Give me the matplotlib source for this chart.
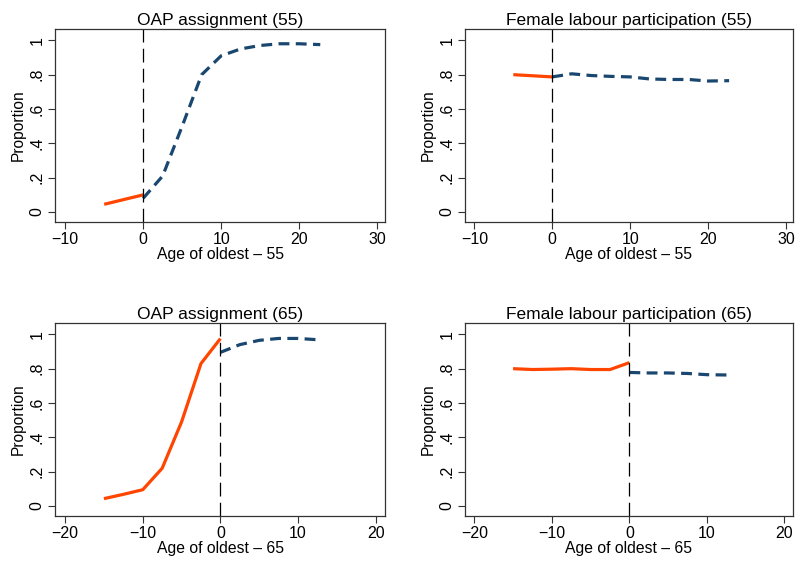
import numpy as np
import matplotlib.pyplot as plt

plt.rcParams['font.family'] = ['Liberation Sans', 'DejaVu Sans']

RED = '#FF4500'
NAVY = '#1A476F'

# Panel (55): bins of age of oldest minus 55
x55_left = [-5, 0]
x55_right = [0, 2.5, 5, 7.5, 10, 12.5, 15, 17.5, 20, 22.7]
oap55_left = [0.045, 0.10]
oap55_right = [0.08, 0.21, 0.50, 0.80, 0.91, 0.95, 0.97, 0.98, 0.98, 0.975]
flp55_left = [0.80, 0.787]
flp55_right = [0.787, 0.805, 0.795, 0.79, 0.787, 0.775, 0.772, 0.772, 0.763, 0.765]

# Panel (65): bins of age of oldest minus 65
x65_left = [-15, -12.5, -10, -7.5, -5, -2.5, 0]
x65_right = [0, 2.5, 5, 7.5, 10, 12.7]
oap65_left = [0.043, 0.068, 0.095, 0.22, 0.49, 0.83, 0.975]
oap65_right = [0.895, 0.94, 0.965, 0.976, 0.976, 0.968]
flp65_left = [0.80, 0.795, 0.797, 0.80, 0.795, 0.795, 0.835]
flp65_right = [0.778, 0.775, 0.775, 0.772, 0.765, 0.763]

yticks = [0, 0.2, 0.4, 0.6, 0.8, 1.0]
ytick_labels = ['0', '.2', '.4', '.6', '.8', '1']

fig = plt.figure(figsize=(7.96, 5.63), dpi=100)

panels = [
    ([0.0691, 0.6057, 0.4146, 0.3428], 'OAP assignment (55)', 'Age of oldest \u2013 55',
     x55_left, oap55_left, x55_right, oap55_right, (-11.3, 31.0), [-10, 0, 10, 20, 30]),
    ([0.5842, 0.6057, 0.4120, 0.3428], 'Female labour participation (55)', 'Age of oldest \u2013 55',
     x55_left, flp55_left, x55_right, flp55_right, (-11.2, 30.9), [-10, 0, 10, 20, 30]),
    ([0.0691, 0.0835, 0.4146, 0.3428], 'OAP assignment (65)', 'Age of oldest \u2013 65',
     x65_left, oap65_left, x65_right, oap65_right, (-21.3, 21.2), [-20, -10, 0, 10, 20]),
    ([0.5842, 0.0835, 0.4120, 0.3428], 'Female labour participation (65)', 'Age of oldest \u2013 65',
     x65_left, flp65_left, x65_right, flp65_right, (-21.2, 21.1), [-20, -10, 0, 10, 20]),
]

for rect, title, xlabel, xl, yl, xr, yr, xlim, xticks in panels:
    ax = fig.add_axes(rect)
    ax.plot(xl, yl, color=RED, lw=2.3, solid_capstyle='butt')
    ax.plot(xr, yr, color=NAVY, lw=2.3, dashes=(3.4, 2.0), dash_capstyle='butt')
    ax.axvline(0, color='black', lw=0.9, dashes=(11, 5))
    ax.set_xlim(*xlim)
    ax.set_ylim(-0.058, 1.066)
    ax.set_xticks(xticks)
    ax.set_xticklabels([str(t).replace('-', '\u2212') for t in xticks])
    ax.set_yticks(yticks)
    ax.set_yticklabels(ytick_labels, rotation=90, va='center')
    ax.tick_params(direction='out', length=5, width=0.8, labelsize=11.5, color='#333333', pad=2.5)
    for s in ax.spines.values():
        s.set_color('#333333')
        s.set_linewidth(0.9)
    ax.set_title(title, fontsize=12.5, pad=3)
    ax.set_xlabel(xlabel, fontsize=11.3, labelpad=0)
    ax.set_ylabel('Proportion', fontsize=11.2, labelpad=3)

fig.savefig('out.png', dpi=100)
